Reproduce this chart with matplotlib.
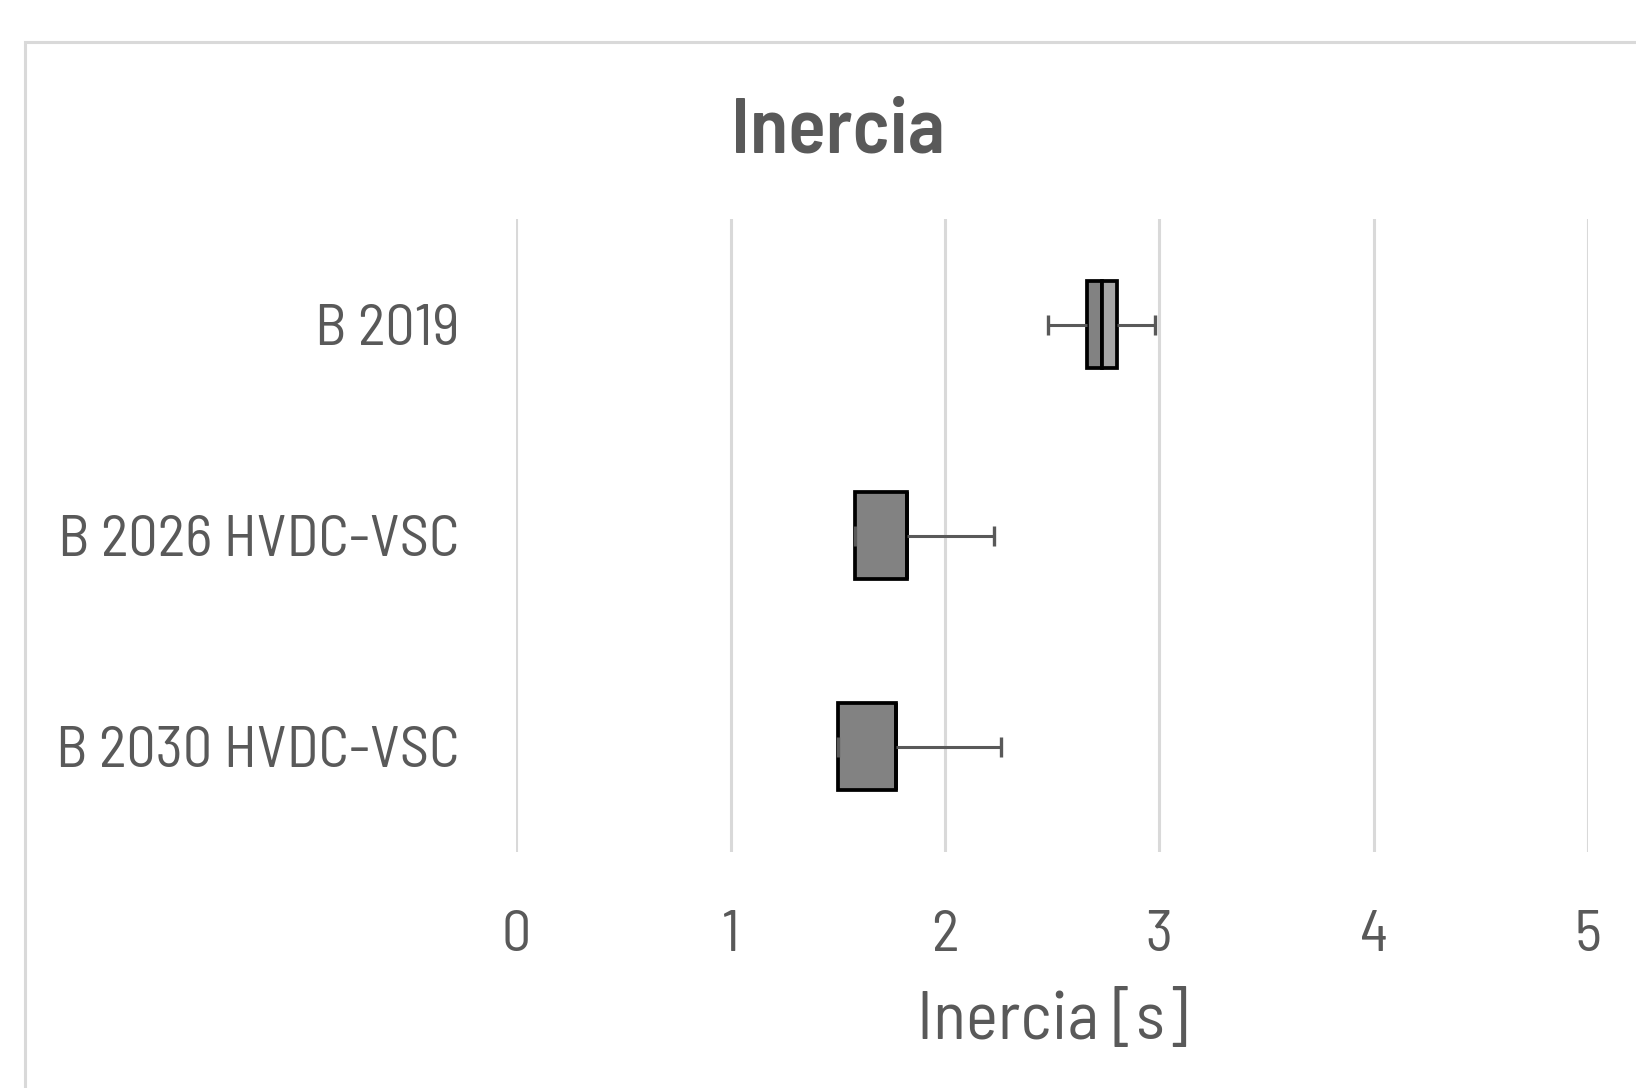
import numpy as np
import matplotlib.pyplot as plt
from matplotlib.patches import Rectangle

# datos del diagrama de caja (Excel: barras apiladas + barras de error)
categorias = ['B 2019', 'B 2026 HVDC-VSC', 'B 2030 HVDC-VSC']
minimo = [2.48, 1.58, 1.50]
q1 = [2.66, 1.58, 1.50]
mediana = [2.73, 1.82, 1.77]
q3 = [2.80, 1.82, 1.77]
maximo = [2.98, 2.23, 2.26]
ticks_x = [0, 1, 2, 3, 4, 5]

gris_texto = '#595959'
plt.rcParams['font.family'] = ['Barlow Semi Condensed', 'DejaVu Sans']

fig = plt.figure(figsize=(16.36, 10.88), dpi=100)
ax = fig.add_axes([0.3157, 0.2169, 0.6550, 0.5818])

y = np.arange(len(categorias))
q1 = np.array(q1); mediana = np.array(mediana); q3 = np.array(q3)
minimo = np.array(minimo); maximo = np.array(maximo)

alto = 0.41
ax.barh(y, mediana - q1, left=q1, height=alto, color='#828282',
        edgecolor='black', linewidth=2.7, zorder=3)
ax.barh(y, q3 - mediana, left=mediana, height=alto, color='#a6a6a6',
        edgecolor='black', linewidth=2.7, zorder=3)

# bigotes
ax.hlines(y, minimo, q1, color=gris_texto, linewidth=2.2, zorder=4)
ax.hlines(y, q3, maximo, color=gris_texto, linewidth=2.2, zorder=4)
ax.plot(minimo, y, linestyle='none', marker='|', markersize=14,
        markeredgewidth=2.4, color=gris_texto, zorder=4)
ax.plot(maximo, y, linestyle='none', marker='|', markersize=14,
        markeredgewidth=2.4, color=gris_texto, zorder=4)

ax.set_xlim(0, 5)
ax.set_ylim(len(categorias) - 0.5, -0.5)
ax.set_yticks(y)
ax.set_yticklabels(categorias, fontweight='normal')
ax.set_xticks(ticks_x)
ax.set_xticklabels([str(t) for t in ticks_x], fontweight='normal')
ax.tick_params(axis='both', length=0, labelsize=42, labelcolor=gris_texto)
ax.tick_params(axis='y', pad=41)
ax.tick_params(axis='x', pad=42)
ax.grid(axis='x', color='#d9d9d9', linewidth=2.2, zorder=0)
ax.set_axisbelow(True)
for s in ax.spines.values():
    s.set_visible(False)

ax.set_xlabel('Inercia [s]', fontsize=49, color=gris_texto, fontweight='normal')
ax.xaxis.set_label_coords(0.5, -0.2686)
ax.xaxis.label.set_va('center')

fig.text(0.512, 0.878, 'Inercia', ha='center', va='center', fontsize=56,
         fontweight='semibold', color=gris_texto)

# borde del área del gráfico
fig.patches.append(Rectangle((0.0153, -0.1), 1.2, 1.0614, transform=fig.transFigure,
                             fill=False, edgecolor='#d9d9d9', linewidth=2.2))

fig.savefig('out.png', dpi=100)
